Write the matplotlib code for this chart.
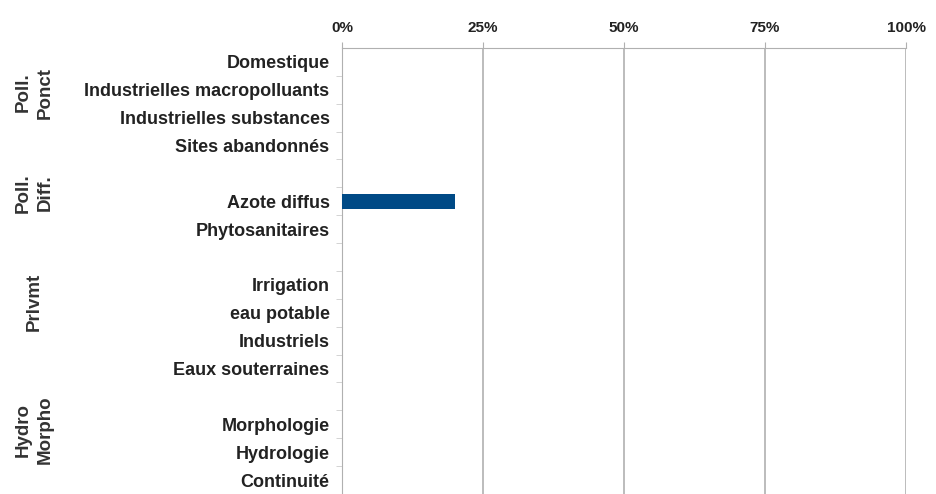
import matplotlib
matplotlib.use("Agg")
import matplotlib.pyplot as plt
import numpy as np
from matplotlib.ticker import PercentFormatter

# rows top to bottom; None = empty spacer slot between groups
categories = [
    "Domestique", "Industrielles macropolluants", "Industrielles substances",
    "Sites abandonnés", None,
    "Azote diffus", "Phytosanitaires", None,
    "Irrigation", "eau potable", "Industriels", "Eaux souterraines", None,
    "Morphologie", "Hydrologie", "Continuité",
]
values = [0, 0, 0, 0, 0, 20, 0, 0, 0, 0, 0, 0, 0, 0, 0, 0]

groups = ["Poll.\nPonct", "Poll.\nDiff.", "Prlvmt", "Hydro\nMorpho"]
group_rows = [1.1, 4.7, 8.6, 13.2]

xticks = [0, 25, 50, 75, 100]

plt.rcParams["font.family"] = ["Liberation Sans", "DejaVu Sans"]

fig = plt.figure(figsize=(9.37, 4.94), dpi=100)
ax = fig.add_axes([0.365, 0.0, 0.602, 0.903])

y = np.arange(len(categories))
ax.barh(y, values, height=0.55, color="#004a86", zorder=3)

ax.set_xlim(0, 100)
ax.set_ylim(len(categories) - 0.5, -0.5)
ax.set_xticks(xticks)
ax.xaxis.set_major_formatter(PercentFormatter(decimals=0))
ax.xaxis.tick_top()
ax.tick_params(axis="x", length=4, color="#b0b0b0", labelsize=11, pad=5)
for lab in ax.get_xticklabels():
    lab.set_fontweight("bold")
    lab.set_color("#222222")

ax.set_yticks(y)
ax.set_yticklabels([c or "" for c in categories], fontsize=13,
                   fontweight="bold", color="#222222")
ax.set_yticks(y[:-1] + 0.5, minor=True)
ax.tick_params(axis="y", which="major", length=0, pad=9)
ax.tick_params(axis="y", which="minor", length=4, color="#cccccc")

ax.xaxis.grid(True, color="#b0b0b0", linewidth=1.2, zorder=0)
for side in ("right", "bottom"):
    ax.spines[side].set_visible(False)
for side in ("top", "left"):
    ax.spines[side].set_color("#b0b0b0")

# group labels in the left margin
for g, r in zip(groups, group_rows):
    ax.text(-0.546, r, g, transform=ax.get_yaxis_transform(), rotation=90,
            ha="center", va="center", fontsize=13.5, fontweight="bold",
            color="#333333", linespacing=1.35, clip_on=False)

fig.savefig("out.png", dpi=100)
